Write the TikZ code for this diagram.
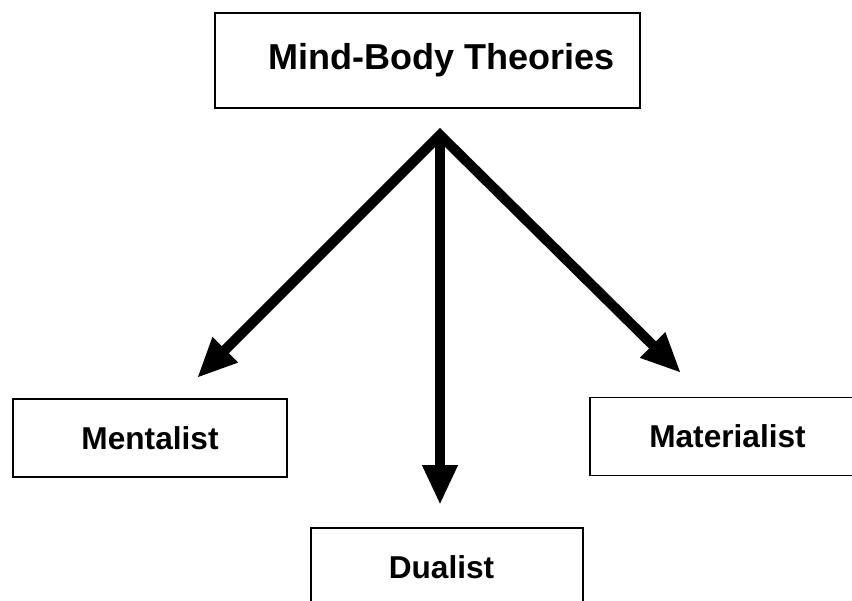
\documentclass[tikz,border=0pt]{standalone}
\usepackage{fontspec}
\setmainfont{Liberation Sans}
\usetikzlibrary{arrows.meta,positioning}

\begin{document}
\begin{tikzpicture}[
    x=0.02cm, y=-0.02cm,
    box/.style={rectangle, draw, line width=1.1pt, minimum width=#1, minimum height=1.56cm, text centered, font=\fontsize{18}{22}\selectfont\bfseries},
    arr/.style={line width=5.7pt, line join=miter, -{Triangle[length=0.8cm, width=0.66cm]}}
]
\useasboundingbox (0,0) rectangle (852,600);
\node[box=8.5cm, minimum height=1.9cm, font=\fontsize{20.5}{24}\selectfont\bfseries] (theory) at (427.5,60.5) {\hspace*{0.56cm}Mind-Body Theories};
\node[box=5.48cm] (ment) at (150,438) {Mentalist};
\node[box=5.5cm] (mat) at (727.5,436.5) {Materialist};
\node[box=5.44cm] (dual) at (447,567) {Dualist\hspace*{0.22cm}};
\coordinate (fork) at (440,135);
\coordinate (mentTip) at (197,378);
\coordinate (matTip) at (681,373);
\coordinate (dualTip) at (440,505);
\draw[arr, {Triangle[length=0.8cm, width=0.66cm]}-{Triangle[length=0.8cm, width=0.66cm]}] (mentTip) -- (fork) -- (matTip);
\draw[arr] (fork) -- (dualTip);
\end{tikzpicture}
\end{document}
